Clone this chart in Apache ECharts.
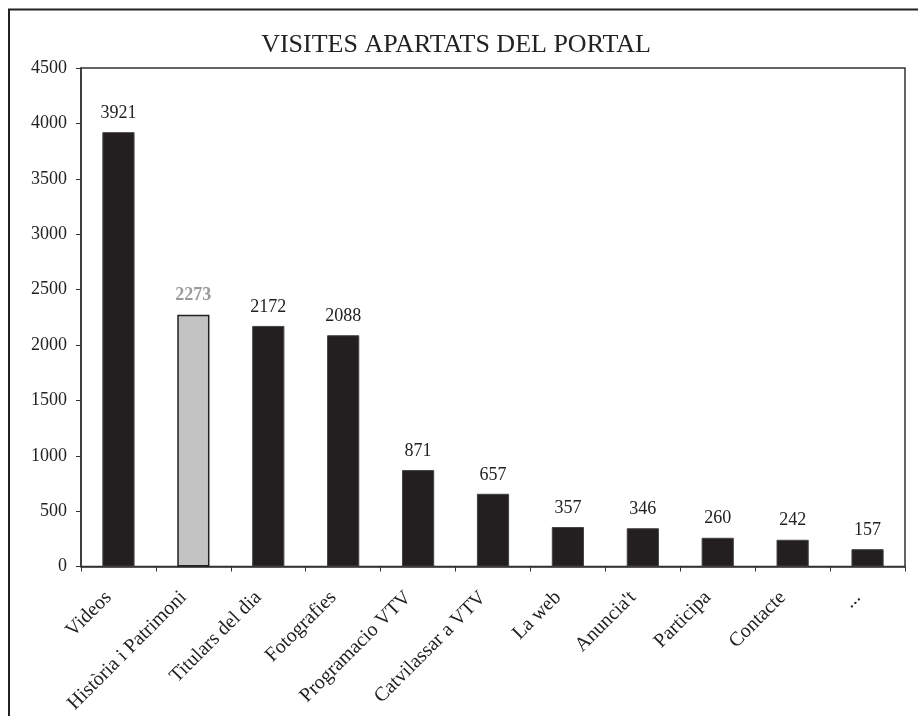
<!DOCTYPE html>
<html><head><meta charset="utf-8">
<script src="https://cdn.jsdelivr.net/npm/echarts@6/dist/echarts.min.js"></script>
<style>html,body{margin:0;padding:0;background:#fff}#c{width:918px;height:716px}</style>
</head><body><div id="c"></div>
<script>
const titleText = 'VISITES APARTATS DEL PORTAL';
const categories = ['Videos','Història i Patrimoni','Titulars del dia','Fotografies','Programacio VTV','Catvilassar a VTV','La web',"Anuncia't",'Participa','Contacte','...'];
const values = [3921,2273,2172,2088,871,657,357,346,260,242,157];
const highlightIndex = 1;
const yTicks = [0,500,1000,1500,2000,2500,3000,3500,4000,4500];

const F = 'Liberation Serif, Times New Roman, serif';
const chart = echarts.init(document.getElementById('c'), null, {renderer:'canvas'});
chart.setOption({
  backgroundColor:'#fff',
  animation:false,
  title:{text:titleText,left:451,top:27,textAlign:'center',textStyle:{fontFamily:F,fontWeight:'normal',fontSize:26,color:'#222'}},
  graphic:[{type:'rect',shape:{x:9,y:9.5,width:940,height:740},style:{fill:'none',stroke:'#222',lineWidth:2},silent:true,z:-1}],
  grid:{left:81,right:13,top:68,bottom:148,show:true,borderColor:'#333',borderWidth:1.5,backgroundColor:'transparent'},
  xAxis:{type:'category',data:categories,boundaryGap:true,
    axisLine:{lineStyle:{color:'#333',width:1.5}},
    axisTick:{show:true,alignWithLabel:false,length:5,lineStyle:{color:'#333'}},
    axisLabel:{rotate:45,interval:0,fontFamily:F,fontSize:20,color:'#222',margin:18,padding:[0,14,0,0]}},
  yAxis:{type:'value',min:yTicks[0],max:yTicks[yTicks.length-1],interval:500,
    axisLine:{show:true,lineStyle:{color:'#333',width:1.5}},
    axisTick:{show:true,length:5,lineStyle:{color:'#333'}},
    splitLine:{show:false},
    axisLabel:{fontFamily:F,fontSize:18,color:'#222',margin:14,formatter:v=>String(v)}},
  series:[{type:'bar',barWidth:'43%',
    data:values.map((v,i)=>({value:v,
      itemStyle:i===highlightIndex?{color:'#c3c3c3',borderColor:'#222',borderWidth:1.5}:{color:'#231f20',borderColor:'#444',borderWidth:1},
      label:i===highlightIndex?{color:'#9a9a9a',fontWeight:'bold'}:{}})),
    label:{show:true,position:'top',distance:10,fontFamily:F,fontSize:18,color:'#222'}}]
});
</script></body></html>
